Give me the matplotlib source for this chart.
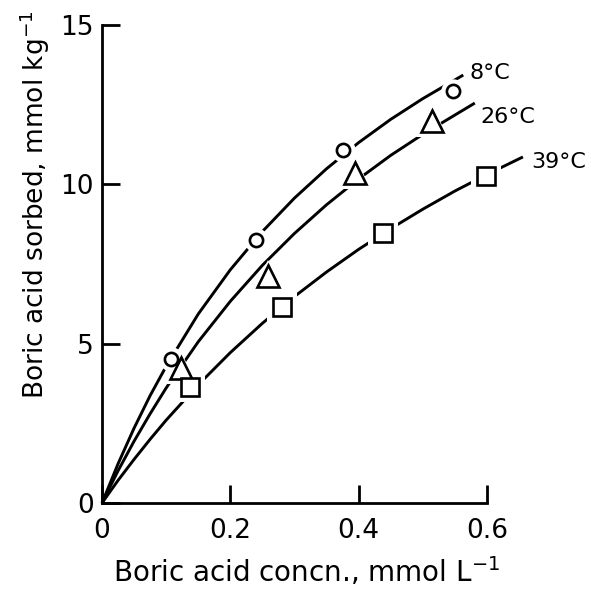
import matplotlib.pyplot as plt
import numpy as np

plt.rcParams['font.family'] = ['DejaVu Sans']
plt.rcParams['mathtext.fontset'] = 'dejavusans'

# measured points (boric acid concn., mmol/L ; sorbed, mmol/kg)
x_8 = [0.107, 0.240, 0.375, 0.547]
y_8 = [4.52, 8.25, 11.08, 12.93]
x_26 = [0.123, 0.259, 0.394, 0.514]
y_26 = [4.24, 7.12, 10.35, 11.99]
x_39 = [0.137, 0.280, 0.438, 0.598]
y_39 = [3.64, 6.15, 8.47, 10.26]

# fitted curves
cx_8 = [0, 0.025, 0.05, 0.075, 0.10, 0.15, 0.20, 0.25, 0.30, 0.35, 0.40, 0.45, 0.50, 0.563]
cy_8 = [0, 1.23, 2.35, 3.37, 4.29, 5.93, 7.32, 8.52, 9.57, 10.49, 11.31, 12.04, 12.69, 13.43]
cx_26 = [0, 0.025, 0.05, 0.075, 0.10, 0.15, 0.20, 0.25, 0.30, 0.35, 0.40, 0.45, 0.50, 0.581]
cy_26 = [0, 1.01, 1.94, 2.80, 3.61, 5.06, 6.33, 7.46, 8.46, 9.36, 10.17, 10.91, 11.57, 12.55]
cx_39 = [0, 0.025, 0.05, 0.075, 0.10, 0.15, 0.20, 0.25, 0.30, 0.35, 0.40, 0.45, 0.50, 0.55, 0.60, 0.656]
cy_39 = [0, 0.71, 1.37, 2.00, 2.60, 3.71, 4.72, 5.64, 6.48, 7.25, 7.96, 8.61, 9.22, 9.79, 10.31, 10.86]

labels = ['8°C', '26°C', '39°C']
x_ticks = [0, 0.2, 0.4, 0.6]
x_ticklabels = ['0', '0.2', '0.4', '0.6']
y_ticks = [0, 5, 10, 15]

fig = plt.figure(figsize=(5.91, 5.89), dpi=100)
ax = fig.add_axes([102/591, 86/589, 385/591, 478/589])

series = [
	(cx_8, cy_8, x_8, y_8, 'o', 9.5),
	(cx_26, cy_26, x_26, y_26, '^', 15.5),
	(cx_39, cy_39, x_39, y_39, 's', 13),
]
for cx, cy, px, py, mk, ms in series:
	ax.plot(cx, cy, color='black', lw=2.1, clip_on=False, zorder=2,
		solid_capstyle='butt', solid_joinstyle='round')
	# white halo leaves a gap in the curve around each marker
	ax.plot(px, py, ls='none', marker=mk, ms=ms + 8, mfc='white', mec='white',
		mew=0, clip_on=False, zorder=3)
	ax.plot(px, py, ls='none', marker=mk, ms=ms, mfc='white', mec='black',
		mew=1.9, clip_on=False, zorder=4)

# curve labels
ax.text(0.573, 13.49, labels[0], fontsize=16, va='center', ha='left')
ax.text(0.589, 12.11, labels[1], fontsize=16, va='center', ha='left')
ax.text(0.669, 10.70, labels[2], fontsize=16, va='center', ha='left')

ax.set_xlim(0, 0.6)
ax.set_ylim(0, 15)
ax.set_xticks(x_ticks)
ax.set_xticklabels(x_ticklabels)
ax.set_yticks(y_ticks)

for s in ['top', 'right']:
	ax.spines[s].set_visible(False)
for s in ['left', 'bottom']:
	ax.spines[s].set_linewidth(2)
ax.tick_params(direction='in', length=13, width=2, labelsize=19)
ax.tick_params(axis='x', pad=11)
ax.tick_params(axis='y', pad=6)

fig.text(35/591, 1 - 205/589, 'Boric acid sorbed, mmol kg$^{-1}$', rotation=90,
	fontsize=19, ha='center', va='center')
fig.text(306/591, 1 - 572/589, 'Boric acid concn., mmol L$^{-1}$',
	fontsize=20, ha='center', va='center')

fig.savefig('out.png', dpi=100)
